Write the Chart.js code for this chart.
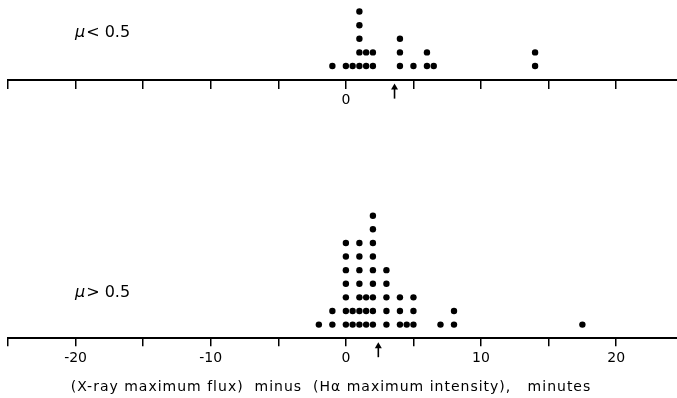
<!DOCTYPE html>
<html>
<head>
<meta charset="utf-8">
<script src="https://cdn.jsdelivr.net/npm/chart.js@4.4.0/dist/chart.umd.min.js"></script>
<style>
    html, body { margin: 0; padding: 0; background: #fff; }
    #contenedor { width: 677px; height: 398px; }
</style>
</head>
<body>
<div id="contenedor"><canvas id="myChart"></canvas></div>
<script>
// Datos: minutos (bins de 0.5 min) y cantidad de eventos por bin
const minutosArriba = [-1, 0, 0.5, 1, 1.5, 2, 4, 5, 6, 6.5, 14];
const conteoArriba  = [ 1, 1, 1,   5, 2,   2, 3, 1, 2, 1,   2];

const minutosAbajo = [-2, -1, 0, 0.5, 1, 1.5, 2, 3, 4, 4.5, 5, 7, 8, 17.5];
const conteoAbajo  = [ 1,  2, 7, 2,   7, 3,   9, 5, 3, 1,   3, 1, 2, 1];

// Valor medio marcado con flecha en cada panel
const mediaArriba = 3.6;
const mediaAbajo = 2.4;

const etiquetasEje = [-20, -10, 0, 10, 20];
const etiquetasPanel = ['< 0.5', '> 0.5'];
const tituloEje = '(X-ray maximum flux)  minus  (Hα maximum intensity),   minutes';

const BASE_ARRIBA = 19; // fila (en unidades de puntos) donde esta el eje del panel de arriba
const FUENTE = '"DejaVu Sans", sans-serif';

// Arma los puntos apilados de cada bin
function armarPuntos(minutos, conteo, base) {
    const puntos = [];
    minutos.forEach((m, i) => {
        for (let k = 1; k <= conteo[i]; k++) {
            puntos.push({ x: m, y: base + k });
        }
    });
    return puntos;
}

// Textos y flechas que no son parte de los ejes
const extrasPlugin = {
    id: 'extras',
    afterDraw(chart) {
        const { ctx, scales } = chart;
        const x = scales.x;
        const y = scales.y;

        function flecha(valor, yEje) {
            const px = x.getPixelForValue(valor);
            const punta = yEje + 4;
            ctx.save();
            ctx.strokeStyle = '#000';
            ctx.fillStyle = '#000';
            ctx.lineWidth = 1.6;
            ctx.beginPath();
            ctx.moveTo(px, punta + 5);
            ctx.lineTo(px, punta + 15);
            ctx.stroke();
            ctx.beginPath();
            ctx.moveTo(px, punta);
            ctx.lineTo(px - 3.5, punta + 6);
            ctx.lineTo(px + 3.5, punta + 6);
            ctx.closePath();
            ctx.fill();
            ctx.restore();
        }
        flecha(mediaArriba, y.getPixelForValue(BASE_ARRIBA));
        flecha(mediaAbajo, y.getPixelForValue(0));

        // Etiquetas de cada panel
        ctx.save();
        ctx.fillStyle = '#000';
        ctx.textBaseline = 'middle';
        const filas = [22.4, 3.3];
        etiquetasPanel.forEach((texto, i) => {
            const py = y.getPixelForValue(filas[i]);
            ctx.font = 'italic 16px ' + FUENTE;
            ctx.fillText('μ', 75, py);
            const w = ctx.measureText('μ').width;
            ctx.font = '16px ' + FUENTE;
            ctx.fillText(texto, 75 + w + 1, py);
        });

        // Titulo del eje x
        ctx.font = '14px ' + FUENTE;
        ctx.letterSpacing = '1px';
        ctx.textAlign = 'center';
        ctx.fillText(tituloEje, 331, 387);
        ctx.restore();
    }
};

const colorTick = (c) => (c.tick && c.tick.value % 5 === 0) ? '#000' : 'rgba(0,0,0,0)';

// Sin relleno extra a los lados del eje
const sinRelleno = (scale) => {
    scale.paddingLeft = 0;
    scale.paddingRight = 0;
};

const ejeBase = {
    type: 'linear',
    axis: 'x',
    min: -25,
    max: 24.5,
    afterFit: sinRelleno,
    border: { display: true, color: '#000', width: 2 },
    grid: { drawOnChartArea: false, drawTicks: true, tickLength: 8, color: colorTick, lineWidth: 1.5 },
    ticks: {
        stepSize: 5,
        autoSkip: false,
        maxRotation: 0,
        padding: 4,
        color: '#000',
        font: { family: FUENTE, size: 14 }
    }
};

const ctx = document.getElementById('myChart');
const myChart = new Chart(ctx, {
    type: 'scatter',
    data: {
        datasets: [{
            label: 'mu < 0.5',
            data: armarPuntos(minutosArriba, conteoArriba, BASE_ARRIBA),
            backgroundColor: '#000',
            borderWidth: 0,
            pointRadius: 3.2
        }, {
            label: 'mu > 0.5',
            data: armarPuntos(minutosAbajo, conteoAbajo, 0),
            backgroundColor: '#000',
            borderWidth: 0,
            pointRadius: 3.2
        }]
    },
    options: {
        responsive: true,
        maintainAspectRatio: false,
        animation: false,
        layout: { autoPadding: false, padding: { left: 8, right: 0, top: 0, bottom: 27 } },
        plugins: { legend: { display: false }, tooltip: { enabled: false } },
        scales: {
            x: {
                ...ejeBase,
                position: 'bottom',
                ticks: {
                    ...ejeBase.ticks,
                    callback: (v) => etiquetasEje.includes(v) ? String(v) : ''
                }
            },
            x2: {
                ...ejeBase,
                position: { y: BASE_ARRIBA },
                ticks: {
                    ...ejeBase.ticks,
                    callback: (v) => v === 0 ? '0' : ''
                }
            },
            y: { type: 'linear', display: false, min: 0, max: 24.85 }
        }
    },
    plugins: [extrasPlugin]
});
</script>
</body>
</html>
